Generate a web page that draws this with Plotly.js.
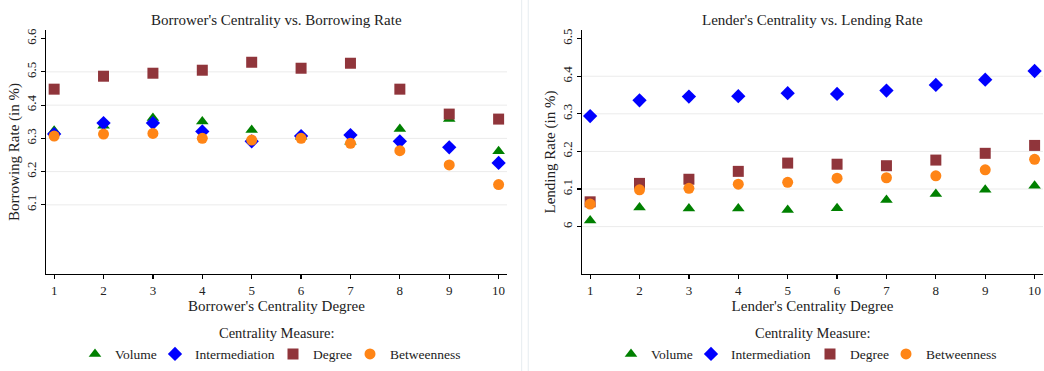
<!DOCTYPE html>
<html>
<head>
<meta charset="utf-8">
<script src="https://cdn.plot.ly/plotly-3.0.1.min.js"></script>
<style>html,body{margin:0;padding:0;background:#fff;}#chart{width:1044px;height:371px;}</style>
</head>
<body>
<div id="chart"></div>
<script>
// ---- Data ----
const degrees = [1, 2, 3, 4, 5, 6, 7, 8, 9, 10];
const seriesNames = ["Volume", "Intermediation", "Degree", "Betweenness"];

// Borrower's centrality vs borrowing rate (%)
const borrowVolume         = [6.323, 6.338, 6.361, 6.351, 6.325, 6.305, 6.290, 6.328, 6.358, 6.261];
const borrowIntermediation = [6.313, 6.346, 6.346, 6.321, 6.291, 6.307, 6.310, 6.291, 6.273, 6.226];
const borrowDegree         = [6.448, 6.487, 6.496, 6.505, 6.529, 6.511, 6.526, 6.448, 6.373, 6.358];
const borrowBetweenness    = [6.307, 6.313, 6.315, 6.300, 6.295, 6.300, 6.285, 6.263, 6.220, 6.161];

// Lender's centrality vs lending rate (%)
const lendVolume         = [6.016, 6.051, 6.048, 6.048, 6.044, 6.049, 6.071, 6.087, 6.098, 6.109];
const lendIntermediation = [6.294, 6.336, 6.346, 6.347, 6.355, 6.353, 6.362, 6.377, 6.391, 6.414];
const lendDegree         = [6.066, 6.115, 6.126, 6.147, 6.169, 6.166, 6.162, 6.177, 6.195, 6.216];
const lendBetweenness    = [6.060, 6.098, 6.102, 6.113, 6.118, 6.129, 6.130, 6.135, 6.151, 6.179];

const leftYTicks  = [6.1, 6.2, 6.3, 6.4, 6.5, 6.6];
const rightYTicks = [6.0, 6.1, 6.2, 6.3, 6.4, 6.5];

// ---- Styles ----
const FONT = "Liberation Serif, Times New Roman, serif";
const TXT = "#222";
const colors  = ["#008000", "#0000ff", "#90353b", "#ff8516"];
const symbols = ["triangle-up", "diamond", "square", "circle"];
const sizes   = [11, 11, 11, 11];

// plot-area geometry (pixels) used to place legends
const ML = 46, PW = 997;
const px2paper = p => (p - ML) / PW;
// legend entry left edges (pixels)
const legendLeftPx = [75, 155, 273, 350, 611, 691, 810, 886];

function mk(ys, i, xa, ya, leg) {
  return {
    x: degrees, y: ys, type: "scatter", mode: "markers",
    name: seriesNames[i], xaxis: xa, yaxis: ya, legend: leg,
    marker: {symbol: symbols[i], color: colors[i], size: sizes[i], line: {width: 0}},
    cliponaxis: false, hoverinfo: "x+y+name"
  };
}

const data = [
  mk(borrowVolume, 0, "x", "y", "legend"),
  mk(borrowIntermediation, 1, "x", "y", "legend2"),
  mk(borrowDegree, 2, "x", "y", "legend3"),
  mk(borrowBetweenness, 3, "x", "y", "legend4"),
  mk(lendVolume, 0, "x2", "y2", "legend5"),
  mk(lendIntermediation, 1, "x2", "y2", "legend6"),
  mk(lendDegree, 2, "x2", "y2", "legend7"),
  mk(lendBetweenness, 3, "x2", "y2", "legend8")
];

const axisCommon = {
  showline: true, linecolor: "#000", linewidth: 1.2, mirror: false,
  ticks: "outside", ticklen: 4, tickcolor: "#000", tickwidth: 1.2,
  showgrid: false, zeroline: false,
  tickfont: {family: FONT, size: 13, color: TXT}
};

function xAxis(domain, anchor, title) {
  return Object.assign({}, axisCommon, {
    domain: domain, anchor: anchor, range: [0.835, 10.17],
    tickmode: "array", tickvals: degrees, ticktext: degrees.map(String),
    title: {text: title, font: {family: FONT, size: 15, color: TXT}, standoff: 3}
  });
}
function yAxis(range, ticks, anchor, title) {
  return Object.assign({}, axisCommon, {
    domain: [0, 1], anchor: anchor, range: range,
    tickmode: "array", tickvals: ticks, ticktext: ticks.map(v => v.toFixed(1).replace(/\.0$/, "")),
    tickangle: -90,
    title: {text: title, font: {family: FONT, size: 15, color: TXT}, standoff: 0}
  });
}

// gridlines (all ticks except the top one), drawn below markers
const shapes = [];
leftYTicks.slice(0, -1).forEach(v => shapes.push({type: "line", xref: "x domain", yref: "y", x0: 0, x1: 1, y0: v, y1: v, line: {color: "#ebebeb", width: 1}, layer: "below"}));
rightYTicks.slice(0, -1).forEach(v => shapes.push({type: "line", xref: "x2 domain", yref: "y2", x0: 0, x1: 1, y0: v, y1: v, line: {color: "#ebebeb", width: 1}, layer: "below"}));
// faint panel separators
[0.4771, 0.4837].forEach(xv => shapes.push({type: "line", xref: "paper", yref: "paper", x0: xv, x1: xv, y0: -0.4, y1: 1.13, line: {color: "#e6edf0", width: 1}}));

function legendCfg(leftPx) {
  return {
    orientation: "h", x: px2paper(leftPx), xanchor: "left", y: -0.265, yanchor: "top",
    font: {family: FONT, size: 13.5, color: TXT}, itemwidth: 30, bgcolor: "rgba(0,0,0,0)",
    borderwidth: 0
  };
}

const layout = {
  width: 1044, height: 371,
  margin: {l: ML, r: 1, t: 30, b: 97},
  paper_bgcolor: "#fff", plot_bgcolor: "#fff",
  font: {family: FONT, color: TXT},
  showlegend: true,
  xaxis: xAxis([0, 0.4624], "y", "Borrower's Centrality Degree"),
  yaxis: yAxis([5.892, 6.626], leftYTicks, "x", "Borrowing Rate (in %)"),
  xaxis2: xAxis([0.5376, 1], "y2", "Lender's Centrality Degree"),
  yaxis2: yAxis([5.874, 6.523], rightYTicks, "x2", "Lending Rate (in %)"),
  shapes: shapes,
  annotations: [
    {text: "Borrower's Centrality vs. Borrowing Rate", xref: "paper", yref: "paper", x: px2paper(276.7), y: 1.041, xanchor: "center", yanchor: "middle", showarrow: false, font: {family: FONT, size: 15, color: TXT}},
    {text: "Lender's Centrality vs. Lending Rate", xref: "paper", yref: "paper", x: px2paper(812.5), y: 1.041, xanchor: "center", yanchor: "middle", showarrow: false, font: {family: FONT, size: 15, color: TXT}},
    {text: "Centrality Measure:", xref: "paper", yref: "paper", x: px2paper(276.7), y: (274 - 333) / 244, xanchor: "center", yanchor: "middle", showarrow: false, font: {family: FONT, size: 14.5, color: TXT}},
    {text: "Centrality Measure:", xref: "paper", yref: "paper", x: px2paper(812.5), y: (274 - 333) / 244, xanchor: "center", yanchor: "middle", showarrow: false, font: {family: FONT, size: 14.5, color: TXT}}
  ]
};
["legend", "legend2", "legend3", "legend4", "legend5", "legend6", "legend7", "legend8"].forEach((k, i) => {
  layout[k] = legendCfg(legendLeftPx[i]);
});

Plotly.newPlot("chart", data, layout, {displayModeBar: false, staticPlot: true});
</script>
</body>
</html>
